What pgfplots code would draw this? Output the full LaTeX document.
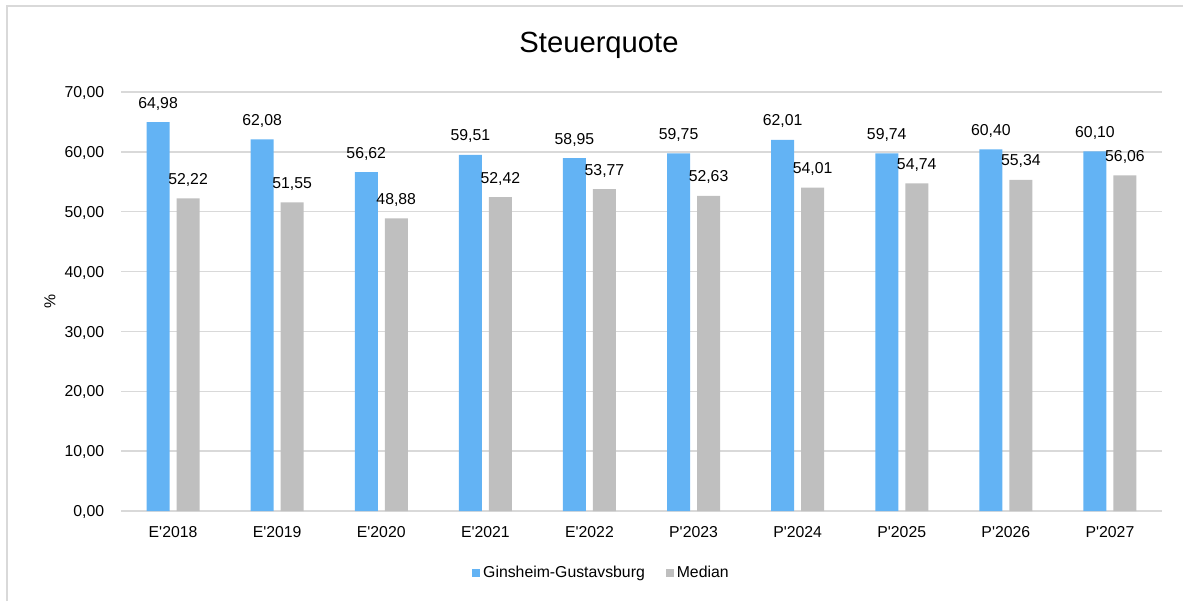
\documentclass[border=0pt]{standalone}
\usepackage{fontspec}
\setmainfont{Liberation Sans}[Ligatures=TeXOff]
\usepackage{pgfplots}
\pgfplotsset{compat=1.18}
\definecolor{barblue}{RGB}{99,179,244}
\definecolor{bargray}{RGB}{191,191,191}
\definecolor{gridgray}{RGB}{217,217,217}
\newcommand{\lblfont}{\fontsize{7.9}{9.5}\selectfont}

\begin{document}
\begin{tikzpicture}
\useasboundingbox (0pt,0pt) rectangle (591.5pt,300.5pt);
% chart frame (only left and top edges visible)
\draw[gridgray, line width=1pt] (3.5pt,0pt) -- (3.5pt,297.5pt) -- (591.5pt,297.5pt);
\node[anchor=base, font=\fontsize{14.6}{17}\selectfont] at (299.5pt,274pt) {Steuerquote};
\begin{axis}[
    at={(60.5pt,45pt)}, anchor=south west,
    scale only axis,
    width=520.5pt, height=209.5pt,
    /pgf/number format/assume math mode=true,
    ybar=3.5pt, bar width=11.5pt,
    xmin=-0.5, xmax=9.5,
    ymin=0, ymax=70,
    xtick={0,...,9},
    xticklabels={E'2018,E'2019,E'2020,E'2021,E'2022,P'2023,P'2024,P'2025,P'2026,P'2027},
    ytick={0,10,...,70},
    yticklabel={\pgfmathprintnumber[fixed,fixed zerofill,precision=2,use comma]{\tick}},
    axis line style={draw=none},
    major tick length=0pt,
    ymajorgrids, grid style={gridgray, line width=0.75pt},
    xticklabel style={font=\lblfont, anchor=base, yshift=-13pt},
    yticklabel style={font=\lblfont, anchor=base east, xshift=-4.9pt, yshift=-2.85pt},
    ylabel={\%},
    ylabel style={font=\lblfont, at={(axis description cs:-0.0682,0.5)}, anchor=center},
    nodes near coords={\pgfmathprintnumber[fixed,fixed zerofill,precision=2,use comma]{\pgfplotspointmeta}},
    every node near coord/.append style={font=\lblfont, text=black, anchor=base, yshift=7pt},
    legend columns=2,
    legend style={at={(0.462,-0.148)}, anchor=center, draw=none, font=\lblfont,
        /tikz/every even column/.append style={column sep=9pt},
        nodes={inner xsep=1.5pt}},
    legend image code/.code={\fill[#1] (0pt,-2pt) rectangle (4pt,2pt);},
]
\addplot[fill=barblue, draw=none] coordinates {
    (0,64.98) (1,62.08) (2,56.62) (3,59.51) (4,58.95)
    (5,59.75) (6,62.01) (7,59.74) (8,60.40) (9,60.10)
};
\addplot[fill=bargray, draw=none] coordinates {
    (0,52.22) (1,51.55) (2,48.88) (3,52.42) (4,53.77)
    (5,52.63) (6,54.01) (7,54.74) (8,55.34) (9,56.06)
};
\legend{Ginsheim-Gustavsburg, Median}
\end{axis}
\end{tikzpicture}
\end{document}
